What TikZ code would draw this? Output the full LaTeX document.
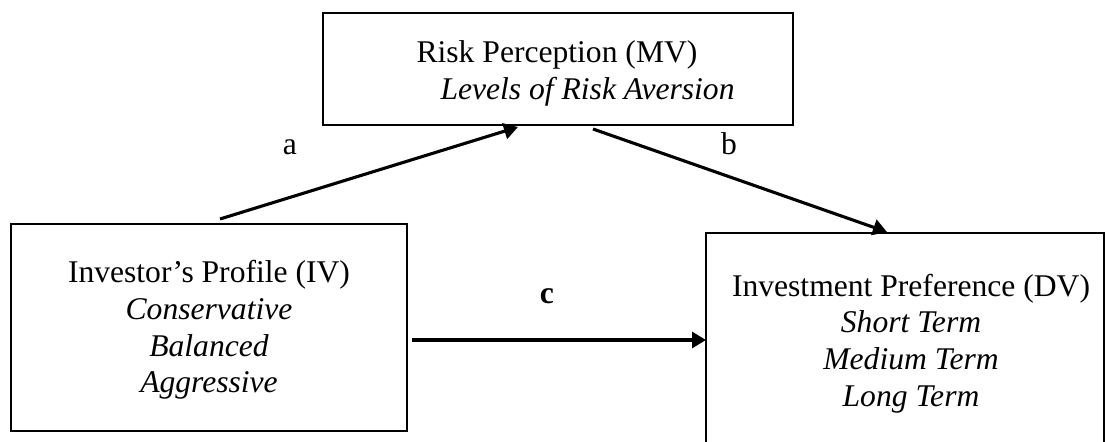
\documentclass[tikz,border=0pt]{standalone}
\usepackage{fontspec}
\setmainfont{Liberation Serif}
\usetikzlibrary{arrows.meta,calc}
\begin{document}
\begin{tikzpicture}[x=0.5pt,y=-0.5pt,
  box/.style={draw,line width=1pt,inner sep=0pt,outer sep=0pt,rectangle},
  txt/.style={anchor=base,inner sep=0pt,font=\fontsize{15.8}{18.35}\selectfont},
  itxt/.style={anchor=base,inner sep=0pt,font=\fontsize{15.8}{18.35}\selectfont\itshape},
  btxt/.style={anchor=base,inner sep=0pt,font=\fontsize{15.8}{18.35}\selectfont\bfseries},
  conn/.style={line width=1.55pt,-{Triangle[length=7pt,width=8pt]}}]
\useasboundingbox (0,0) rectangle (1106,442);
\clip (0,0) rectangle (1106,442);
% boxes
\node[box,minimum width=235pt,minimum height=56pt] (mv) at (558,69) {};
\node[box,minimum width=198pt,minimum height=103.5pt] (iv) at (209,327.5) {};
\node[box,minimum width=199pt,minimum height=113.5pt] (dv) at (905,346.5) {};
% texts
\node[txt] (mv1) at (557,63) {Risk Perception (MV)};
\node[itxt] (mv2) at (587.5,100) {Levels of Risk Aversion};
\node[txt] (iv1) at (209,283) {Investor’s Profile (IV)};
\node[itxt] (iv2) at (209,320) {Conservative};
\node[itxt] (iv3) at (209,357) {Balanced};
\node[itxt] (iv4) at (209,393) {Aggressive};
\node[txt] (dv1) at (911,297) {Investment Preference (DV)};
\node[itxt] (dv2) at (911,333) {Short Term};
\node[itxt] (dv3) at (911,370) {Medium Term};
\node[itxt] (dv4) at (911,407) {Long Term};
% labels
\node[txt] (la) at (290,155) {a};
\node[txt] (lb) at (729,155) {b};
\node[btxt] (lc) at (547,304) {c};
% connectors
\draw[conn] ([xshift=5.5pt,yshift=2.5pt]iv.north) -- ([xshift=-20pt,yshift=-1pt]mv.south);
\draw[conn] ([xshift=17.5pt,yshift=-2pt]mv.south) -- ([xshift=-9pt,yshift=0.5pt]dv.north);
\coordinate (cs) at ([xshift=2.5pt,yshift=-6.25pt]iv.east);
\draw[conn] (cs) -- (cs -| dv.west);
\end{tikzpicture}
\end{document}
